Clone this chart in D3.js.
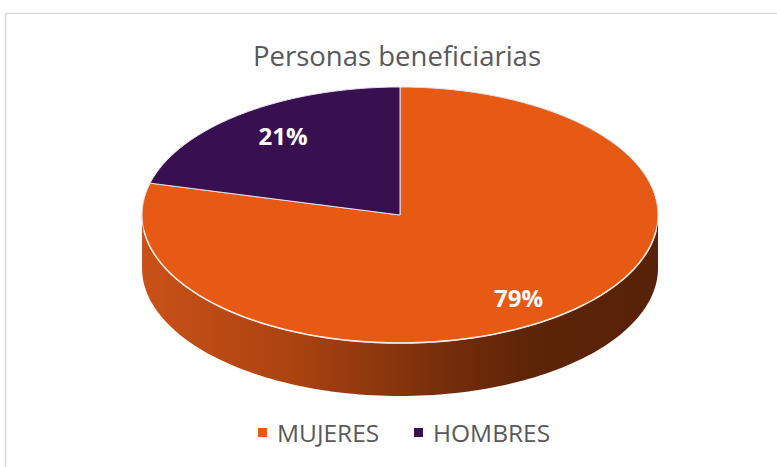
<!DOCTYPE html>
<html>
<head>
<meta charset="utf-8">
<script src="https://cdn.jsdelivr.net/npm/d3@7"></script>
<style>
  html, body { margin: 0; padding: 0; background: #fff; }
  svg { display: block; }
</style>
</head>
<body>
<div id="chart"></div>
<script>
// data
const categories = ['MUJERES', 'HOMBRES']
const values = [79, 21]
const colors = ['#E65A13', '#38104F']
const title = 'Personas beneficiarias'

const width = 777
const height = 467
const cx = 400, cy = 215      // centre of top face
const rx = 258, ry = 128      // radii of top face ellipse
const depth = 53              // thickness of the pie

const svg = d3.select('#chart').append('svg')
    .attr('width', width).attr('height', height)

// chart frame
svg.append('rect')
    .attr('x', 5.5).attr('y', 13.5)
    .attr('width', 800).attr('height', 500)
    .attr('fill', '#fff').attr('stroke', '#d9d9d9').attr('stroke-width', 1.5)

const x = d3.scaleLinear().domain([-1, 1]).range([cx - rx, cx + rx])
const y = d3.scaleLinear().domain([-1, 1]).range([cy + ry, cy - ry])
const color = d3.scaleOrdinal().domain(categories).range(colors)

const pie = d3.pie().sort(null).value(d => d.value)
const slices = pie(categories.map((c, i) => ({ name: c, value: values[i] })))

// point on ellipse for a pie angle (clockwise from 12 o'clock)
const pt = (a, r = 1, dy = 0) => [x(Math.sin(a) * r), y(Math.cos(a) * r) + dy]
const arcPts = (a0, a1, dy = 0) => d3.range(0, 121).map(i => pt(a0 + (a1 - a0) * i / 120, 1, dy))
const line = d3.line()

// side gradient
const defs = svg.append('defs')
const grad = defs.append('linearGradient').attr('id', 'side')
    .attr('gradientUnits', 'userSpaceOnUse')
    .attr('x1', cx - rx).attr('x2', cx + rx).attr('y1', 0).attr('y2', 0)
grad.selectAll('stop')
    .data([[0, '#C95117'], [0.3, '#AA4210'], [0.55, '#7C300B'], [0.75, '#5D2407'], [1, '#582208']])
    .enter().append('stop')
    .attr('offset', d => d[0]).attr('stop-color', d => d[1])

// visible side = front half (pi/2 .. 3pi/2), clipped to each slice
slices.forEach(s => {
    const a0 = Math.max(s.startAngle, Math.PI / 2)
    const a1 = Math.min(s.endAngle, Math.PI * 1.5)
    if (a1 <= a0) return
    const pts = arcPts(a0, a1).concat(arcPts(a1, a0, depth))
    svg.append('path')
        .attr('d', line(pts) + 'Z')
        .attr('fill', 'url(#side)')
})

// top faces
svg.selectAll('path.top')
    .data(slices)
    .enter().append('path')
    .attr('class', 'top')
    .attr('d', d => line([[cx, cy]].concat(arcPts(d.startAngle, d.endAngle))) + 'Z')
    .attr('fill', d => color(d.data.name))
    .attr('stroke', '#e8e0ee')
    .attr('stroke-width', 1)
    .attr('stroke-linejoin', 'round')

// rim highlight along the front edge
svg.append('path')
    .attr('d', line(arcPts(Math.PI / 2 + 0.12, Math.PI * 1.5 - 0.12)))
    .attr('fill', 'none').attr('stroke', '#fbe9df').attr('stroke-width', 1.6)

// labels
const total = d3.sum(values)
const labelR = { MUJERES: [0.75, 0.82], HOMBRES: [0.74, 0.78] }
svg.selectAll('text.lbl')
    .data(slices)
    .enter().append('text')
    .attr('class', 'lbl')
    .attr('x', d => pt((d.startAngle + d.endAngle) / 2, labelR[d.data.name][0])[0])
    .attr('y', d => pt((d.startAngle + d.endAngle) / 2, labelR[d.data.name][1])[1] + 9)
    .attr('text-anchor', 'middle')
    .attr('font-family', 'Open Sans, sans-serif')
    .attr('font-weight', 'bold')
    .attr('font-size', 24)
    .attr('fill', '#fff')
    .text(d => Math.round(d.data.value / total * 100) + '%')

// title
svg.append('text')
    .attr('x', 397).attr('y', 66)
    .attr('text-anchor', 'middle')
    .attr('font-family', 'Open Sans, sans-serif')
    .attr('font-size', 27.5)
    .attr('fill', '#595959')
    .text(title)

// legend
const legX = [258, 414]
const leg = svg.selectAll('g.leg')
    .data(categories)
    .enter().append('g')
    .attr('class', 'leg')
    .attr('transform', (d, i) => `translate(${legX[i]},433)`)
leg.append('rect')
    .attr('x', 0).attr('y', -5).attr('width', 9).attr('height', 9)
    .attr('fill', d => color(d))
leg.append('text')
    .attr('x', 19).attr('y', 9)
    .attr('font-family', 'Open Sans, sans-serif')
    .attr('font-size', 24.5)
    .attr('fill', '#595959')
    .text(d => d)
</script>
</body>
</html>
